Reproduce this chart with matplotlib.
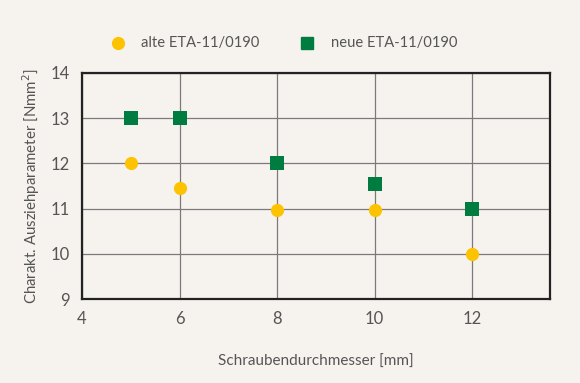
import matplotlib.pyplot as plt
from matplotlib.lines import Line2D

# data
durchmesser = [5, 6, 8, 10, 12]
alte_eta = [12.0, 11.45, 10.97, 10.97, 10.0]
neue_eta = [13.0, 13.0, 12.0, 11.55, 11.0]

xticks = [4, 6, 8, 10, 12]
yticks = [9, 10, 11, 12, 13, 14]

gelb = "#fdc300"
gruen = "#007c40"
grau = "#555555"
hintergrund = "#f6f3ef"

plt.rcParams['font.family'] = ['Lato', 'DejaVu Sans']

fig = plt.figure(figsize=(5.8, 3.83), dpi=100, facecolor=hintergrund)
ax = fig.add_axes([82/580, 1 - 299/383, (550-82)/580, (299-73)/383])
ax.set_facecolor(hintergrund)

ax.scatter(durchmesser, alte_eta, s=90, marker="o", color=gelb, zorder=3, linewidths=0)
ax.scatter(durchmesser, neue_eta, s=95, marker="s", color=gruen, zorder=3, linewidths=0)

ax.set_xlim(4, 13.6)
ax.set_ylim(9, 14)
ax.set_xticks(xticks)
ax.set_yticks(yticks)
ax.grid(True, color="#7a7a7a", lw=0.9)
ax.set_axisbelow(True)
ax.tick_params(length=0, labelsize=12, labelcolor=grau, pad=9)
for s in ax.spines.values():
    s.set_color("#222222")
    s.set_linewidth(1.6)

ax.set_xlabel("Schraubendurchmesser [mm]", fontsize=11, color=grau, labelpad=20)
ax.set_ylabel("Charakt. Ausziehparameter [Nmm$^2$]", fontsize=10.8, color=grau, labelpad=6)

# legend across the top
ly = 1 - 43/383
fig.add_artist(Line2D([118/580], [ly], marker="o", ms=8.5, color=gelb, lw=0, transform=fig.transFigure))
fig.text(141/580, ly, "alte ETA-11/0190", fontsize=10.6, color=grau, va="center")
fig.add_artist(Line2D([307/580], [ly], marker="s", ms=8.5, color=gruen, lw=0, transform=fig.transFigure))
fig.text(331/580, ly, "neue ETA-11/0190", fontsize=10.6, color=grau, va="center")

fig.savefig("out.png", dpi=100, facecolor=hintergrund)
